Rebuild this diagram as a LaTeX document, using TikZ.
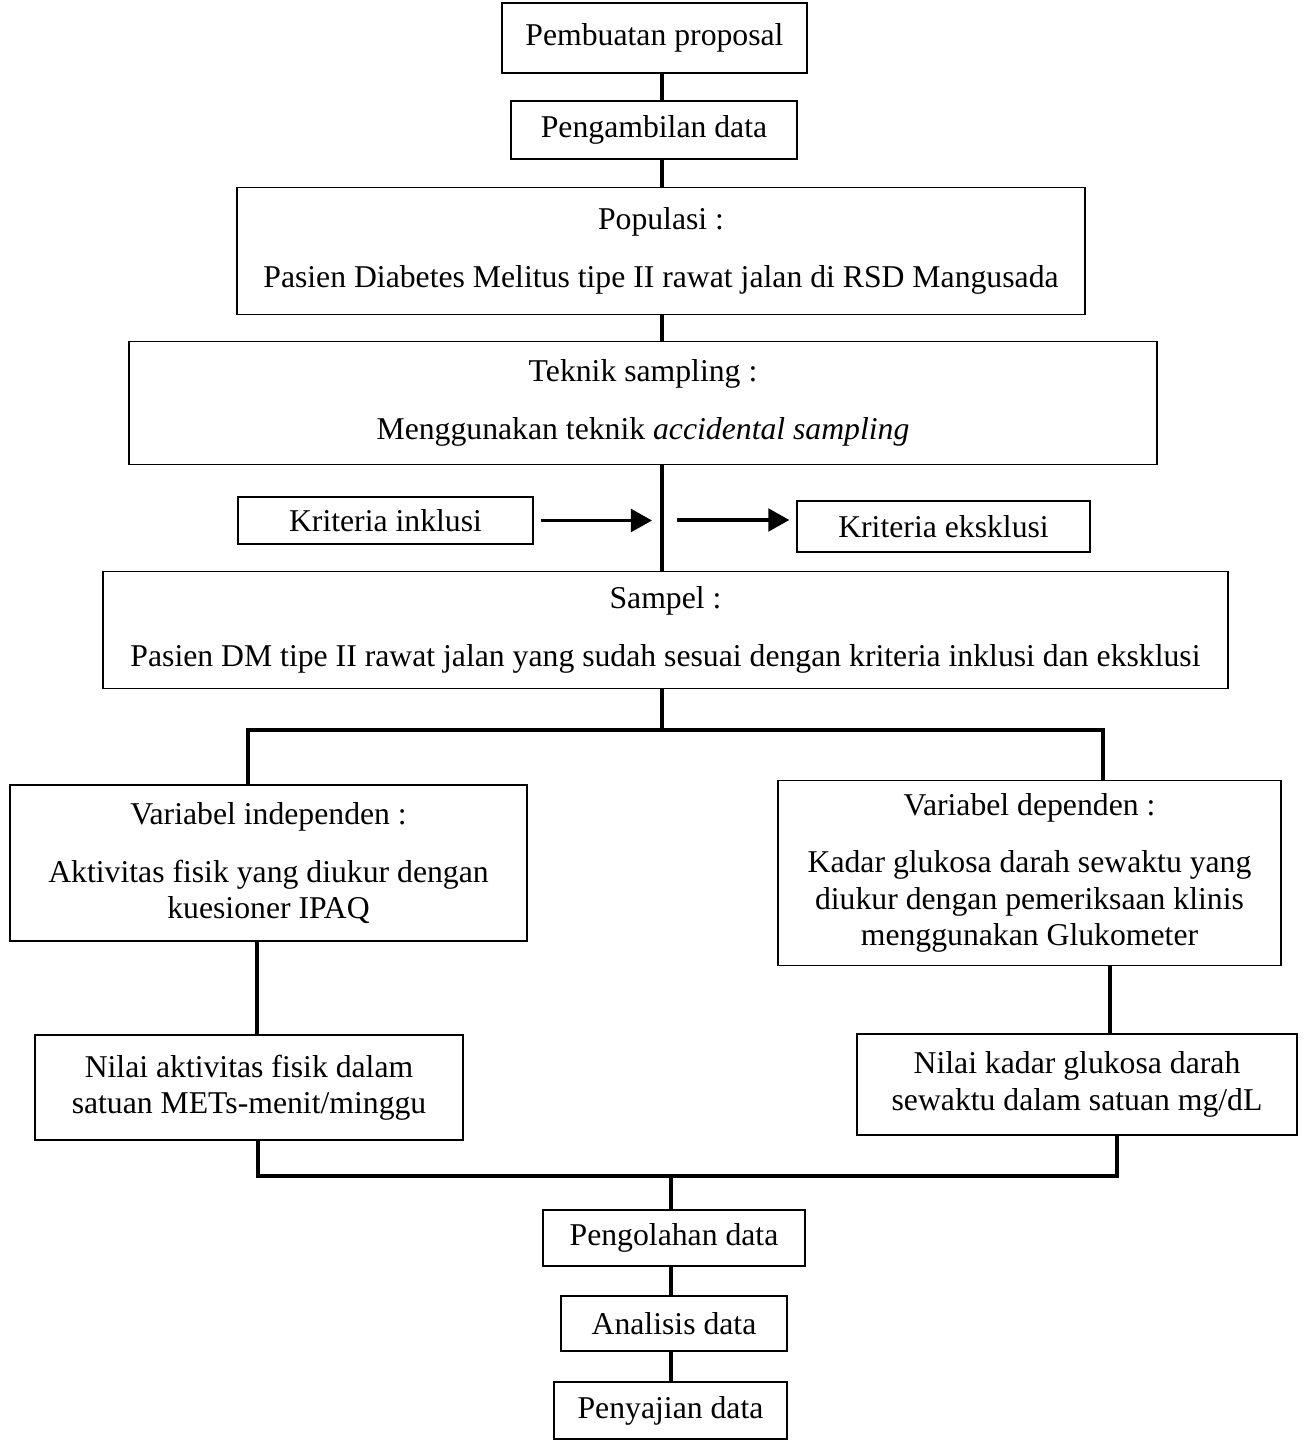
\documentclass[tikz,border=0pt]{standalone}
\usepackage{fontspec}
\setmainfont{Liberation Serif}
\usetikzlibrary{arrows.meta, positioning, calc}

\tikzset{
  kotak/.style={draw=black, line width=0.5pt, rectangle, inner sep=0pt,
    align=center, font=\fontsize{12}{13.8}\selectfont},
  ukuran/.style 2 args={minimum width={#1*0.133mm}, minimum height={#2*0.133mm}},
  garis/.style={black, line width=1.3pt},
  panah/.style={black, line width=1.4pt, -{Triangle[length=2.8mm, width=3mm]}},
}

\begin{document}
\begin{tikzpicture}[x=0.133mm, y=-0.133mm]

% Frame (pixel units of the page, y downwards)
\useasboundingbox (0,0) rectangle (1305,1440);

% Upper chain
\node[kotak, ukuran={305}{70}] (proposal) at (654.5,38) {Pembuatan proposal};
\node[kotak, ukuran={286}{58}] (ambil) at (654,130) {Pengambilan data};
\node[kotak, ukuran={848}{127}] (populasi) at (661,251)
  {Populasi :\\[8pt] Pasien Diabetes Melitus tipe II rawat jalan di RSD Mangusada};
\node[kotak, ukuran={1028}{123}] (teknik) at (643,403)
  {Teknik sampling :\\[8pt] Menggunakan teknik \textit{accidental sampling}};

% Criteria
\node[kotak, ukuran={295}{47}] (inklusi) at (385.5,520.5) {Kriteria inklusi};
\node[kotak, ukuran={293}{51}] (eksklusi) at (943.5,526.5) {Kriteria eksklusi};

\node[kotak, ukuran={1125}{117}] (sampel) at (665.5,630)
  {Sampel :\\[8pt] Pasien DM tipe II rawat jalan yang sudah sesuai dengan kriteria inklusi dan eksklusi};

% Variables
\node[kotak, ukuran={517}{156}] (indep) at (268.5,863)
  {Variabel independen :\\[8pt] Aktivitas fisik yang diukur dengan\\ kuesioner IPAQ};
\node[kotak, ukuran={503}{185}] (dep) at (1029.5,873)
  {Variabel dependen :\\[8pt] Kadar glukosa darah sewaktu yang\\ diukur dengan pemeriksaan klinis\\ menggunakan Glukometer};

\node[kotak, ukuran={428}{105}] (nilaiAkt) at (249,1087.5)
  {Nilai aktivitas fisik dalam\\ satuan METs-menit/minggu};
\node[kotak, ukuran={440}{101}] (nilaiKadar) at (1077,1084.5)
  {Nilai kadar glukosa darah\\ sewaktu dalam satuan mg/dL};

% Lower chain
\node[kotak, ukuran={262}{56}] (olah) at (674,1238) {Pengolahan data};
\node[kotak, ukuran={226}{55}] (analisis) at (674,1323.5) {Analisis data};
\node[kotak, ukuran={233}{57}] (saji) at (670.5,1410.5) {Penyajian data};

% Spine coordinates
\coordinate (poros) at (662,0);
\coordinate (porosB) at (671,0);
\coordinate (ujungKiri) at (652,520.5);
\coordinate (pangkalKanan) at (677,520);
\coordinate (cabang) at (662,730);
\coordinate (cabangKiri) at (248,730);
\coordinate (cabangKanan) at (1103,730);
\coordinate (kolomKiri) at (257,0);
\coordinate (kolomKanan) at (1110,0);
\coordinate (gabungKiri) at (258,1176);
\coordinate (gabungKanan) at (1117,1176);
\coordinate (gabung) at (671,1176);

% Connectors
\draw[garis] (proposal.south -| poros) -- (ambil.north -| poros);
\draw[garis] (ambil.south -| poros) -- (populasi.north -| poros);
\draw[garis] (populasi.south -| poros) -- (teknik.north -| poros);
\draw[garis] (teknik.south -| poros) -- (sampel.north -| poros);

\draw[panah] ($(inklusi.east)+(7,0)$) -- (ujungKiri);
\draw[panah] (pangkalKanan) -- ($(pangkalKanan -| eksklusi.west)+(-7,0)$);

\draw[garis] (sampel.south -| poros) -- (cabang);
\draw[garis] (indep.north -| cabangKiri) -- (cabangKiri) -- (cabangKanan)
  -- (dep.north -| cabangKanan);

\draw[garis] (indep.south -| kolomKiri) -- (nilaiAkt.north -| kolomKiri);
\draw[garis] (dep.south -| kolomKanan) -- (nilaiKadar.north -| kolomKanan);

\draw[garis] (nilaiAkt.south -| gabungKiri) -- (gabungKiri) -- (gabungKanan)
  -- (nilaiKadar.south -| gabungKanan);
\draw[garis] (gabung) -- (olah.north -| gabung);
\draw[garis] (olah.south -| porosB) -- (analisis.north -| porosB);
\draw[garis] (analisis.south -| porosB) -- (saji.north -| porosB);

\end{tikzpicture}
\end{document}
